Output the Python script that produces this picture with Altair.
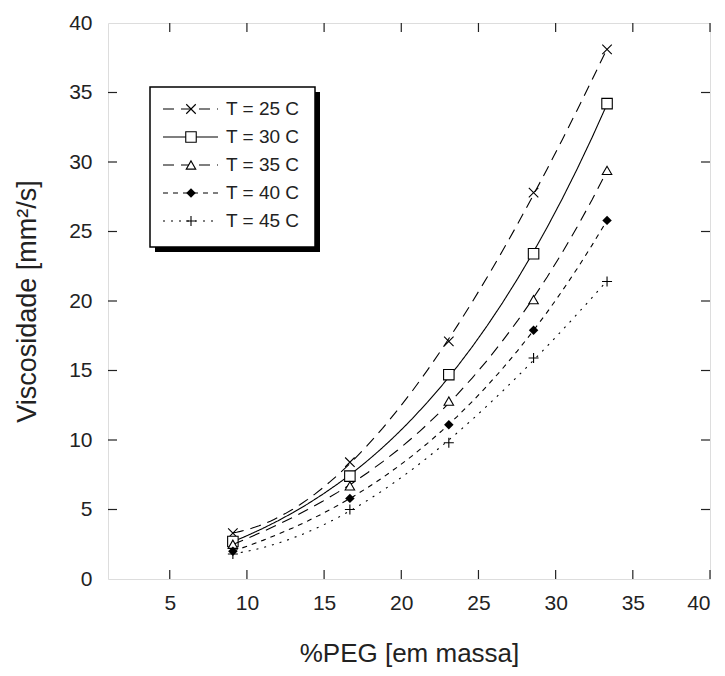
import altair as alt
import pandas as pd

# ---- data ----
peg = [9.09, 16.67, 23.08, 28.57, 33.33]
series = ["T = 25 C", "T = 30 C", "T = 35 C", "T = 40 C", "T = 45 C"]
visc_25 = [3.3, 8.4, 17.1, 27.8, 38.1]
visc_30 = [2.7, 7.4, 14.7, 23.4, 34.2]
visc_35 = [2.5, 6.7, 12.8, 20.1, 29.4]
visc_40 = [2.0, 5.8, 11.1, 17.9, 25.8]
visc_45 = [1.8, 5.0, 9.8, 15.9, 21.4]
x_ticks = [5, 10, 15, 20, 25, 30, 35, 40]
y_ticks = [0, 5, 10, 15, 20, 25, 30, 35, 40]

values = [visc_25, visc_30, visc_35, visc_40, visc_45]
rows = []
for s, vals in zip(series, values):
    for xv, yv in zip(peg, vals):
        rows.append({"serie": s, "peg": xv, "visc": yv})
df = pd.DataFrame(rows)

W, H = 602, 556
FONT = "Liberation Sans"
TXT = "#222222"

X_PATH = "M-1,-1L1,1M-1,1L1,-1"
PLUS_PATH = "M-1,0L1,0M0,-1L0,1"
styles = {
    "T = 25 C": dict(dash=[11, 7], shape=X_PATH, filled=False, size=90),
    "T = 30 C": dict(dash=[1, 0], shape="square", filled=False, size=110),
    "T = 35 C": dict(dash=[11, 7], shape="triangle-up", filled=False, size=90),
    "T = 40 C": dict(dash=[5, 5], shape="diamond", filled=True, size=90),
    "T = 45 C": dict(dash=[2, 6], shape=PLUS_PATH, filled=False, size=100),
}

xs = alt.Scale(domain=[1, 40], nice=False, zero=False)
ys = alt.Scale(domain=[0, 40], nice=False)

xenc = alt.X("peg:Q", scale=xs, axis=alt.Axis(
    values=x_ticks, ticks=False, domain=False, grid=False,
    labelFontSize=21, labelPadding=13, labelColor=TXT, labelFont=FONT,
    title="%PEG [em massa]", titleFontSize=26, titleFont=FONT,
    titleFontWeight="normal", titleColor=TXT, titlePadding=27))
yenc = alt.Y("visc:Q", scale=ys, axis=alt.Axis(
    values=y_ticks, ticks=False, domain=False, grid=False,
    labelFontSize=21, labelPadding=16, labelColor=TXT, labelFont=FONT,
    title="Viscosidade [mm²/s]", titleFontSize=27, titleFont=FONT,
    titleFontWeight="normal", titleColor=TXT, titlePadding=27))

base = alt.Chart(df)
layers = []
for s in series:
    st = styles[s]
    sub = base.transform_filter(alt.datum.serie == s)
    line = sub.transform_regression("peg", "visc", method="poly", order=3).mark_line(
        color="black", strokeWidth=1.1, strokeDash=st["dash"]).encode(x=xenc, y=yenc)
    pts = sub.mark_point(
        shape=st["shape"], filled=st["filled"], size=st["size"],
        color="black", strokeWidth=1.1, opacity=1,
        fill="black" if st["filled"] else "white").encode(x=xenc, y=yenc)
    layers += [line, pts]

# inward ticks on all four sides
xt = pd.DataFrame({"t": x_ticks})
yt = pd.DataFrame({"t": [v for v in y_ticks if 0 < v < 40]})
TL = 9
tick_layers = [
    alt.Chart(xt).mark_rule(color=TXT, strokeWidth=1.2).encode(
        x=alt.X("t:Q", scale=xs), y=alt.value(H), y2=alt.value(H - TL)),
    alt.Chart(xt).mark_rule(color=TXT, strokeWidth=1.2).encode(
        x=alt.X("t:Q", scale=xs), y=alt.value(0), y2=alt.value(TL)),
    alt.Chart(yt).mark_rule(color=TXT, strokeWidth=1.2).encode(
        y=alt.Y("t:Q", scale=ys), x=alt.value(0), x2=alt.value(TL)),
    alt.Chart(yt).mark_rule(color=TXT, strokeWidth=1.2).encode(
        y=alt.Y("t:Q", scale=ys), x=alt.value(W), x2=alt.value(W - TL)),
]

# legend box (plot coordinates; plot origin at page 108,23)
bx0, bx1, by0, by1 = 42, 207, 64, 224
sh = 5
leg = [
    alt.Chart(pd.DataFrame({"a": [0]})).mark_rect(color="black").encode(
        x=alt.value(bx0 + sh), x2=alt.value(bx1 + sh),
        y=alt.value(by0 + sh), y2=alt.value(by1 + sh)),
    alt.Chart(pd.DataFrame({"a": [0]})).mark_rect(
        fill="white", stroke="black", strokeWidth=1.5).encode(
        x=alt.value(bx0), x2=alt.value(bx1),
        y=alt.value(by0), y2=alt.value(by1)),
]
row0, dy = 86, 28
for i, s in enumerate(series):
    st = styles[s]
    yy = row0 + i * dy
    one = pd.DataFrame({"serie": [s]})
    leg.append(alt.Chart(one).mark_rule(
        color="black", strokeWidth=1.1, strokeDash=st["dash"]).encode(
        x=alt.value(55), x2=alt.value(110), y=alt.value(yy)))
    leg.append(alt.Chart(one).mark_point(
        shape=st["shape"], filled=st["filled"], size=st["size"],
        color="black", strokeWidth=1.1, opacity=1,
        fill="black" if st["filled"] else "white").encode(
        x=alt.value(83), y=alt.value(yy)))
    leg.append(alt.Chart(one).mark_text(
        align="left", baseline="middle", font=FONT, fontSize=19, color=TXT).encode(
        x=alt.value(118), y=alt.value(yy), text="serie:N"))

chart = alt.layer(*layers, *tick_layers, *leg).properties(
    width=W, height=H,
    padding={"left": 100, "top": 15, "right": 7, "bottom": 89},
    autosize="none",
).configure_view(stroke=TXT, strokeWidth=1.3).configure(background="white")

chart.save("out.html", embed_options={"renderer": "svg", "actions": False})
